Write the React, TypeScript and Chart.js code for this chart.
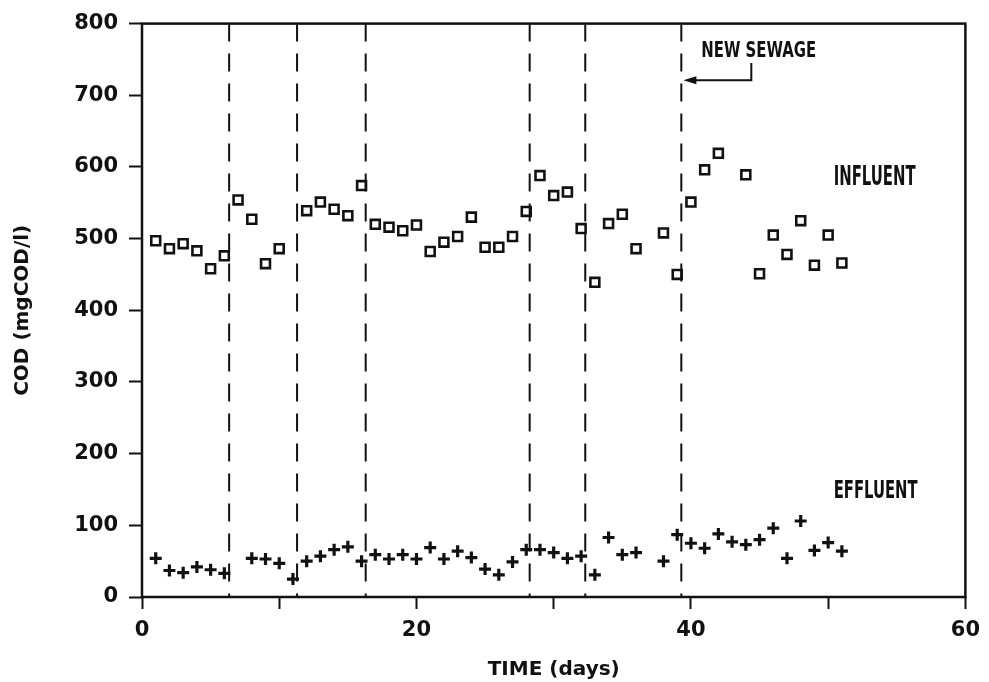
import React, { useEffect, useRef } from 'react';
import { Chart, registerables } from 'chart.js';

Chart.register(...registerables);

// ---- data ----
const influentDays = [1, 2, 3, 4, 5, 6, 7, 8, 9, 10, 12, 13, 14, 15, 16, 17, 18, 19, 20, 21, 22, 23, 24, 25, 26, 27, 28, 29, 30, 31, 32, 33, 34, 35, 36, 38, 39, 40, 41, 42, 44, 45, 46, 47, 48, 49, 50, 51];
const influentCOD = [497, 486, 493, 483, 458, 476, 554, 527, 465, 486, 539, 551, 541, 532, 574, 520, 516, 511, 519, 482, 495, 503, 530, 488, 488, 503, 538, 588, 560, 565, 514, 439, 521, 534, 486, 508, 450, 551, 596, 619, 589, 451, 505, 478, 525, 463, 505, 466];

const effluentDays = [1, 2, 3, 4, 5, 6, 8, 9, 10, 11, 12, 13, 14, 15, 16, 17, 18, 19, 20, 21, 22, 23, 24, 25, 26, 27, 28, 29, 30, 31, 32, 33, 34, 35, 36, 38, 39, 40, 41, 42, 43, 44, 45, 46, 47, 48, 49, 50, 51];
const effluentCOD = [54, 37, 34, 42, 38, 33, 54, 53, 47, 25, 50, 57, 66, 70, 50, 59, 53, 59, 53, 69, 53, 64, 55, 39, 31, 49, 66, 66, 62, 54, 57, 31, 83, 59, 62, 50, 87, 75, 68, 88, 77, 73, 80, 96, 54, 106, 65, 76, 64];

// operational change days (dashed vertical lines)
const changeDays = [6.35, 11.3, 16.3, 28.25, 32.3, 39.3];

const xMajorTicks = [0, 20, 40, 60];
const xTitle = 'TIME (days)';
const yTitle = 'COD (mgCOD/l)';
const seriesNames = ['INFLUENT', 'EFFLUENT'];
const noteText = 'NEW SEWAGE';

// label anchors in data space (left edge day, vertical centre value)
const seriesLabelDays = [50.4, 50.4];
const seriesLabelValues = [588, 151];
const noteDay = 40.75;
const noteValue = 765;
const arrowFromDay = 44.4;
const arrowTopValue = 745;
const arrowValue = 721;
const arrowToDay = 39.45;

const INK = '#111111';
const FONT = '"DejaVu Sans", "Liberation Sans", sans-serif';

function fitText(ctx: CanvasRenderingContext2D, text: string, left: number, centerY: number, width: number, capH: number) {
  const size = capH / 0.73;
  ctx.save();
  ctx.font = `bold ${size}px ${FONT}`;
  ctx.fillStyle = INK;
  ctx.textBaseline = 'alphabetic';
  ctx.textAlign = 'left';
  const w = ctx.measureText(text).width;
  ctx.translate(left, centerY);
  ctx.scale(width / w, 1);
  ctx.fillText(text, 0, capH / 2);
  ctx.restore();
}

const overlayPlugin = {
  id: 'overlay',
  beforeDatasetsDraw(chart: any) {
    const { ctx, chartArea: a, scales } = chart;
    const x = scales.x;
    ctx.save();
    ctx.strokeStyle = INK;
    ctx.lineWidth = 2;
    ctx.setLineDash([18, 12]);
    changeDays.forEach((d) => {
      const px = x.getPixelForValue(d);
      ctx.beginPath();
      ctx.moveTo(px, a.top);
      ctx.lineTo(px, a.bottom);
      ctx.stroke();
    });
    ctx.restore();
  },
  afterDraw(chart: any) {
    const { ctx, chartArea: a, scales } = chart;
    const x = scales.x;
    const y = scales.y;
    ctx.save();
    // frame
    ctx.strokeStyle = INK;
    ctx.lineWidth = 2.5;
    ctx.setLineDash([]);
    ctx.strokeRect(a.left, a.top, a.right - a.left, a.bottom - a.top);

    // series labels
    fitText(ctx, seriesNames[0], x.getPixelForValue(seriesLabelDays[0]), y.getPixelForValue(seriesLabelValues[0]), 82, 19);
    fitText(ctx, seriesNames[1], x.getPixelForValue(seriesLabelDays[1]), y.getPixelForValue(seriesLabelValues[1]), 84, 18);
    fitText(ctx, noteText, x.getPixelForValue(noteDay), y.getPixelForValue(noteValue), 115, 16);

    // arrow
    const ax = x.getPixelForValue(arrowFromDay);
    const ay0 = y.getPixelForValue(arrowTopValue);
    const ay = y.getPixelForValue(arrowValue);
    const tx = x.getPixelForValue(arrowToDay);
    ctx.lineWidth = 2;
    ctx.beginPath();
    ctx.moveTo(ax, ay0);
    ctx.lineTo(ax, ay);
    ctx.lineTo(tx + 10, ay);
    ctx.stroke();
    ctx.fillStyle = INK;
    ctx.beginPath();
    ctx.moveTo(tx, ay);
    ctx.lineTo(tx + 13, ay - 4);
    ctx.lineTo(tx + 13, ay + 4);
    ctx.closePath();
    ctx.fill();
    ctx.restore();
  },
};

export default function App() {
  const canvasRef = useRef<HTMLCanvasElement | null>(null);

  useEffect(() => {
    document.body.style.margin = '0';
    const canvas = canvasRef.current;
    if (!canvas) return;
    const tickFont = { family: FONT, size: 21, weight: 'bold' as const };
    const titleFont = { family: FONT, size: 20, weight: 'bold' as const };
    const chart = new Chart(canvas, {
      type: 'scatter',
      data: {
        datasets: [
          {
            label: seriesNames[0],
            data: influentDays.map((d, i) => ({ x: d, y: influentCOD[i] })),
            pointStyle: 'rect',
            pointRadius: 6.3,
            borderWidth: 2.6,
            borderColor: INK,
            backgroundColor: 'rgba(255,255,255,0)',
            showLine: false,
          },
          {
            label: seriesNames[1],
            data: effluentDays.map((d, i) => ({ x: d, y: effluentCOD[i] })),
            pointStyle: 'cross',
            pointRadius: 6,
            borderWidth: 3.2,
            borderColor: INK,
            backgroundColor: INK,
            showLine: false,
          },
        ],
      },
      options: {
        animation: false,
        responsive: false,
        devicePixelRatio: 1,
        layout: { padding: { top: 20, right: 22, left: 0, bottom: 0 } },
        plugins: {
          legend: { display: false },
          tooltip: { enabled: false },
        },
        scales: {
          x: {
            type: 'linear',
            min: 0,
            max: 60,
            ticks: {
              stepSize: 10,
              autoSkip: false,
              maxRotation: 0,
              color: INK,
              font: tickFont,
              padding: 9,
              callback: (v: any) => (xMajorTicks.includes(Number(v)) ? String(v) : ''),
            },
            grid: {
              drawOnChartArea: false,
              drawTicks: true,
              tickLength: 12,
              tickWidth: 2,
              tickColor: INK,
            },
            border: { display: false },
            title: {
              display: true,
              text: xTitle,
              color: INK,
              font: titleFont,
              padding: { top: 0, bottom: 0 },
            },
            afterFit: (s: any) => {
              s.height = 85;
            },
          },
          y: {
            type: 'linear',
            min: 0,
            max: 800,
            ticks: {
              stepSize: 100,
              color: INK,
              font: tickFont,
              padding: 11,
            },
            grid: {
              drawOnChartArea: false,
              drawTicks: true,
              tickLength: 13,
              tickWidth: 2,
              tickColor: INK,
            },
            border: { display: false },
            title: {
              display: true,
              text: yTitle,
              color: INK,
              font: titleFont,
              padding: { top: 11, bottom: 0 },
            },
            afterFit: (s: any) => {
              s.width = 142;
            },
          },
        },
      },
      plugins: [overlayPlugin],
    });
    return () => chart.destroy();
  }, []);

  return (
    <div style={{ width: 989, height: 682, background: '#fff' }}>
      <canvas ref={canvasRef} width={989} height={682} style={{ display: 'block' }} />
    </div>
  );
}
